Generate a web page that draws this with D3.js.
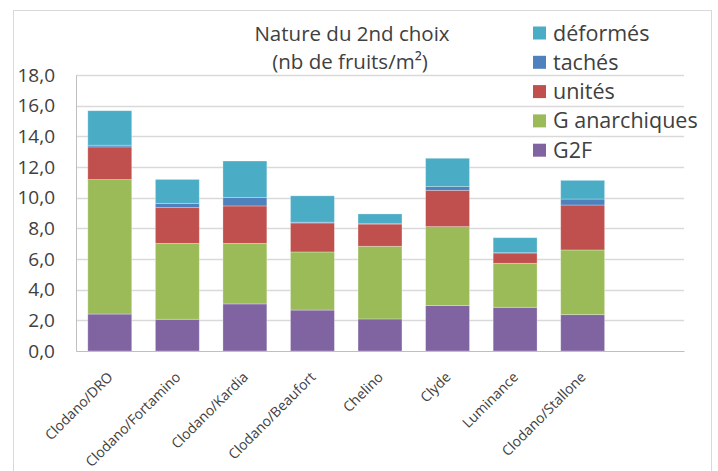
<!DOCTYPE html>
<html>
<head>
<meta charset="utf-8">
<script src="https://cdn.jsdelivr.net/npm/d3@7"></script>
<style>
  body { margin: 0; background: #fff; }
  text { font-family: "Open Sans", sans-serif; fill: #404040; }
</style>
</head>
<body>
<div class="chart"></div>
<script>
// categories (last slot is an empty category, as in the original chart)
let categories = ["Clodano/DRO", "Clodano/Fortamino", "Clodano/Kardia", "Clodano/Beaufort",
  "Chelino", "Clyde", "Luminance", "Clodano/Stallone", ""];

let seriesNames = ["G2F", "G anarchiques", "unités", "tachés", "déformés"];

let g2f       = [2.41, 2.07, 3.07, 2.67, 2.09, 2.96, 2.85, 2.37];
let gAnarch   = [8.77, 4.95, 3.95, 3.79, 4.74, 5.15, 2.87, 4.22];
let unites    = [2.13, 2.33, 2.44, 1.89, 1.45, 2.37, 0.67, 2.93];
let taches    = [0.11, 0.28, 0.55, 0.05, 0.02, 0.24, 0.02, 0.39];
let deformes  = [2.25, 1.56, 2.38, 1.72, 0.64, 1.85, 0.98, 1.22];

let yTicks = [0, 2, 4, 6, 8, 10, 12, 14, 16, 18];

let colors = {
  "G2F": "#8064A2",
  "G anarchiques": "#9BBB59",
  "unités": "#C0504D",
  "tachés": "#4F81BD",
  "déformés": "#4BACC6"
};

let data = categories.slice(0, 8).map((c, i) => ({
  cat: c,
  "G2F": g2f[i],
  "G anarchiques": gAnarch[i],
  "unités": unites[i],
  "tachés": taches[i],
  "déformés": deformes[i]
}));

let W = 718, H = 471;
let margin = { top: 75, right: 34, bottom: 120, left: 76 },
  width = W - margin.left - margin.right,
  height = H - margin.top - margin.bottom;

let root = d3.select(".chart").append("svg")
  .attr("width", W)
  .attr("height", H);

// outer frame
root.append("rect")
  .attr("x", 13.5).attr("y", 10.5)
  .attr("width", 698).attr("height", 470)
  .attr("fill", "none")
  .attr("stroke", "#d9d9d9");

let svg = root.append("g")
  .attr("transform", "translate(" + margin.left + "," + margin.top + ")");

let x = d3.scaleBand()
  .domain(categories)
  .range([0, width])
  .paddingInner(0.35)
  .paddingOuter(0.175);

let y = d3.scaleLinear().domain([0, 18]).range([height, 0]);

// gridlines
svg.append("g").selectAll("line")
  .data(yTicks.slice(1))
  .enter().append("line")
  .attr("x1", 0).attr("x2", width)
  .attr("y1", d => Math.round(y(d)) + 0.5)
  .attr("y2", d => Math.round(y(d)) + 0.5)
  .attr("stroke", "#d9d9d9")
  .attr("stroke-width", 1.3);

let stack = d3.stack().keys(seriesNames);
let layers = stack(data);

svg.append("g").selectAll("g")
  .data(layers)
  .enter().append("g")
  .attr("fill", d => colors[d.key])
  .selectAll("rect")
  .data(d => d)
  .enter().append("rect")
  .attr("x", d => x(d.data.cat))
  .attr("width", x.bandwidth())
  .attr("y", d => y(d[1]))
  .attr("height", d => y(d[0]) - y(d[1]))
  .attr("stroke", "rgba(255,255,255,0.35)")
  .attr("stroke-width", 0.8);

// y axis
let yAxis = d3.axisLeft(y).tickValues(yTicks)
  .tickSize(0).tickPadding(21)
  .tickFormat(d => d3.format(".1f")(d).replace(".", ","));

let yAxisGroup = svg.append("g").attr("class", "y-axis").call(yAxis);
yAxisGroup.select(".domain").attr("stroke", "#bfbfbf");
yAxisGroup.selectAll("text")
  .style("font-size", "19px")
  .attr("fill", "#404040");

// x axis
let xAxis = d3.axisBottom(x).tickSize(0).tickPadding(0);
let xAxisGroup = svg.append("g").attr("class", "x-axis")
  .attr("transform", "translate(0," + height + ")")
  .call(xAxis);
xAxisGroup.select(".domain").attr("stroke", "#bfbfbf");
xAxisGroup.selectAll("text")
  .style("font-size", "14px")
  .attr("fill", "#404040")
  .attr("text-anchor", "end")
  .attr("dy", "0")
  .attr("transform", "translate(4,27) rotate(-45)");

// title, two lines
root.append("text")
  .attr("x", 352).attr("y", 41)
  .attr("text-anchor", "middle")
  .style("font-size", "20.5px")
  .text("Nature du 2nd choix");
root.append("text")
  .attr("x", 350).attr("y", 69)
  .attr("text-anchor", "middle")
  .style("font-size", "20.5px")
  .text("(nb de fruits/m²)");

// legend
let legendItems = seriesNames.slice().reverse();
let legend = root.append("g").attr("transform", "translate(533,0)");
let li = legend.selectAll("g")
  .data(legendItems)
  .enter().append("g")
  .attr("transform", (d, i) => "translate(0," + (33 + i * 29.3) + ")");
li.append("rect")
  .attr("x", 0).attr("y", -6.5)
  .attr("width", 13).attr("height", 13)
  .attr("fill", d => colors[d]);
li.append("text")
  .attr("x", 20).attr("y", 0)
  .attr("dy", "0.35em")
  .style("font-size", "21.5px")
  .attr("fill", "#1a1a1a")
  .text(d => d);
</script>
</body>
</html>
